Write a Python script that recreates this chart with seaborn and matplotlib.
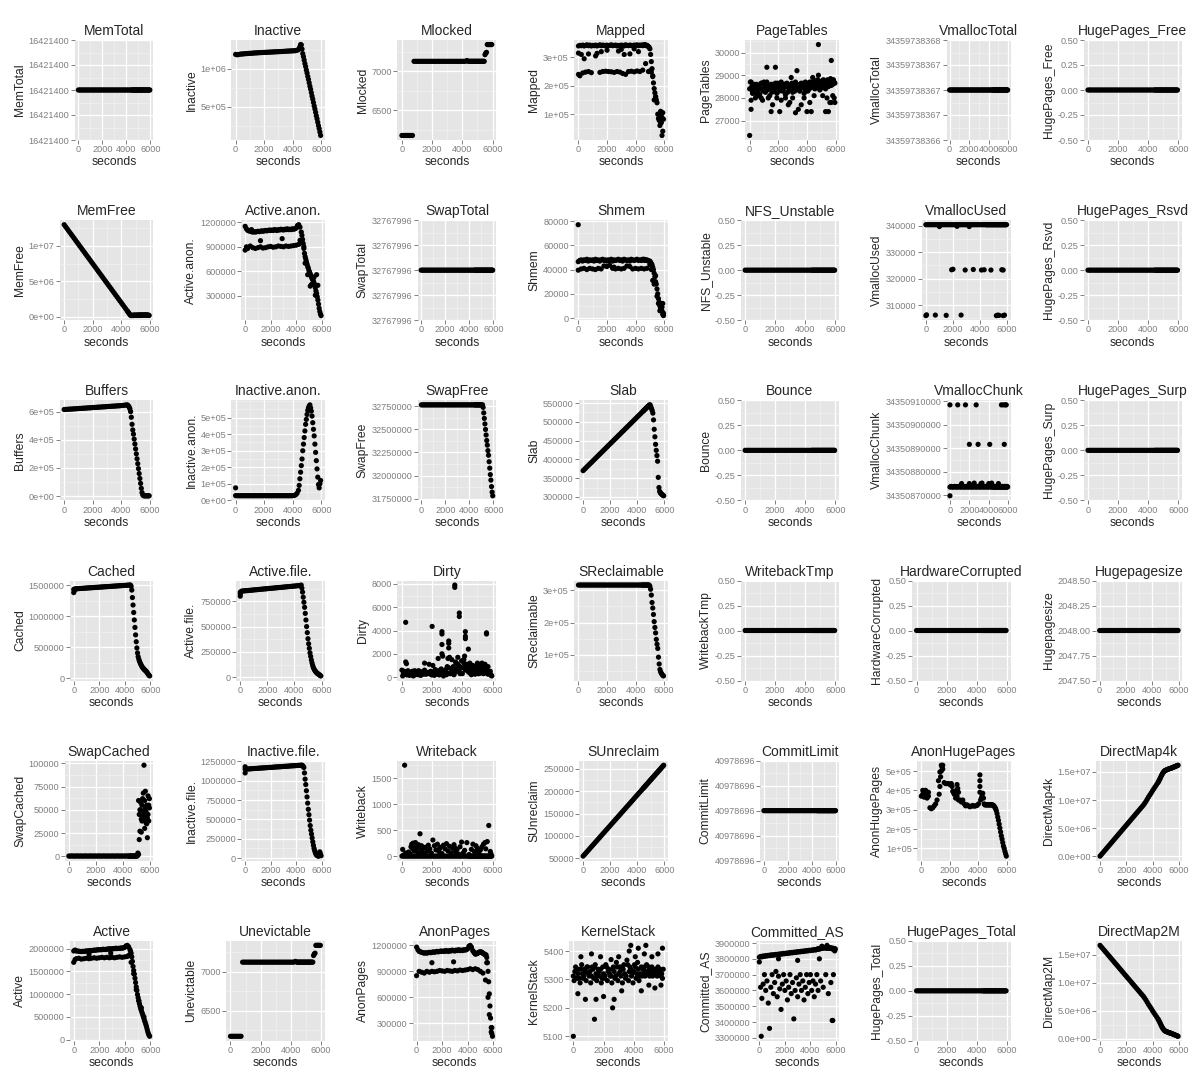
import numpy as np
import pandas as pd
import matplotlib
matplotlib.use("Agg")
import matplotlib.pyplot as plt
import seaborn as sns
from matplotlib.ticker import AutoMinorLocator

# sample times (s): every 100 s, then every 50 s once memory starts moving
seconds = [
    0, 100, 200, 300, 400, 500, 600, 700, 800, 900,
    1000, 1100, 1200, 1300, 1400, 1500, 1600, 1700, 1800, 1900,
    2000, 2100, 2200, 2300, 2400, 2500, 2600, 2700, 2800, 2900,
    3000, 3100, 3200, 3300, 3400, 3500, 3600, 3700, 3800, 3900,
    4000, 4100, 4200, 4300, 4400,
    4450, 4500, 4550, 4600, 4650, 4700, 4750, 4800, 4850, 4900,
    4950, 5000, 5050, 5100, 5150, 5200, 5250, 5300, 5350, 5400,
    5450, 5500, 5550, 5600, 5650, 5700, 5750, 5800, 5850, 5900,
    5950,
]

# constant counters
mem_total = 16421400
swap_total = 32767996
commit_limit = 40978696
vmalloc_total = 34359738367
hugepagesize = 2048
nfs_unstable = 0
bounce = 0
writeback_tmp = 0
hardware_corrupted = 0
hugepages_total = 0
hugepages_free = 0
hugepages_rsvd = 0
hugepages_surp = 0

mem_free = [
    13000e3, 12724e3, 12447e3, 12171e3, 11895e3, 11618e3, 11342e3, 11066e3, 10789e3, 10513e3,
    10237e3, 9960e3, 9684e3, 9408e3, 9131e3, 8855e3, 8579e3, 8302e3, 8026e3, 7750e3,
    7473e3, 7197e3, 6921e3, 6644e3, 6368e3, 6092e3, 5815e3, 5539e3, 5263e3, 4986e3,
    4710e3, 4434e3, 4157e3, 3881e3, 3605e3, 3328e3, 3052e3, 2776e3, 2499e3, 2223e3,
    1947e3, 1670e3, 1394e3, 1118e3, 841e3,
    703e3, 565e3, 427e3, 289e3, 160e3, 130e3, 150e3, 210e3, 140e3, 180e3,
    230e3, 160e3, 200e3, 140e3, 250e3, 180e3, 220e3, 150e3, 260e3, 190e3,
    230e3, 170e3, 240e3, 200e3, 260e3, 180e3, 220e3, 250e3, 170e3, 210e3,
    150e3,
]

buffers = [
    615e3, 616e3, 616e3, 617e3, 618e3, 618e3, 619e3, 620e3, 620e3, 621e3,
    622e3, 623e3, 623e3, 624e3, 625e3, 625e3, 626e3, 627e3, 627e3, 628e3,
    629e3, 630e3, 630e3, 631e3, 632e3, 632e3, 633e3, 634e3, 634e3, 635e3,
    636e3, 637e3, 637e3, 638e3, 639e3, 639e3, 640e3, 641e3, 641e3, 642e3,
    643e3, 644e3, 645e3, 647e3, 648e3,
    645e3, 640e3, 632e3, 620e3, 600e3, 560e3, 510e3, 470e3, 440e3, 405e3,
    370e3, 335e3, 300e3, 265e3, 230e3, 195e3, 160e3, 125e3, 90e3, 55e3,
    25e3, 8e3, 3e3, 2e3, 2e3, 2e3, 2e3, 2e3, 2e3, 2e3,
    2e3,
]

cached = [
    1380e3, 1440e3, 1441e3, 1443e3, 1444e3, 1446e3, 1447e3, 1448e3, 1450e3, 1451e3,
    1453e3, 1454e3, 1456e3, 1457e3, 1458e3, 1460e3, 1461e3, 1463e3, 1464e3, 1465e3,
    1467e3, 1468e3, 1470e3, 1471e3, 1473e3, 1474e3, 1475e3, 1477e3, 1478e3, 1480e3,
    1481e3, 1483e3, 1484e3, 1485e3, 1487e3, 1488e3, 1490e3, 1491e3, 1493e3, 1494e3,
    1495e3, 1497e3, 1498e3, 1500e3, 1501e3,
    1500e3, 1480e3, 1420e3, 1300e3, 1180e3, 1060e3, 940e3, 820e3, 700e3, 590e3,
    490e3, 410e3, 350e3, 310e3, 280e3, 255e3, 230e3, 210e3, 190e3, 175e3,
    162e3, 150e3, 140e3, 130e3, 120e3, 110e3, 95e3, 80e3, 65e3, 50e3,
    40e3,
]
cached_extra = [(0, 1430e3), (100, 1420e3)]

swap_cached = [
    300, 200, 400, 300, 200, 300, 400, 200, 300, 300,
    300, 200, 400, 300, 200, 300, 400, 200, 300, 300,
    300, 200, 400, 300, 200, 300, 400, 200, 300, 300,
    300, 200, 400, 300, 200, 300, 400, 200, 300, 300,
    300, 200, 400, 300, 200,
    300, 300, 300, 300, 300, 300, 300, 300, 300, 300,
    300, 300, 300, 3500, 60e3, 45e3, 27e3, 50e3, 40e3, 38e3,
    62e3, 68e3, 45e3, 42e3, 70e3, 48e3, 35e3, 41e3, 65e3, 55e3,
    52e3,
]
swap_cached_extra = [
    (5150, 2000), (5200, 18e3), (5250, 50e3), (5300, 58e3), (5350, 26e3), (5400, 55e3),
    (5450, 43e3), (5500, 39e3), (5500, 48e3), (5550, 98e3), (5600, 30e3), (5600, 60e3),
    (5650, 52e3), (5700, 36e3), (5750, 55e3), (5800, 20e3), (5850, 45e3), (5900, 38e3),
    (5950, 62e3),
]

active = [
    1950e3, 1970e3, 1951e3, 1948e3, 1944e3, 1940e3, 1936e3, 1943e3, 1939e3, 1945e3,
    1952e3, 1948e3, 1954e3, 1960e3, 1957e3, 1963e3, 1969e3, 1966e3, 1972e3, 1978e3,
    1974e3, 1981e3, 1977e3, 1988e3, 1984e3, 1981e3, 1992e3, 1988e3, 2000e3, 1996e3,
    1992e3, 2003e3, 2000e3, 2011e3, 2002e3, 2009e3, 2005e3, 2016e3, 2012e3, 2019e3,
    2030e3, 2061e3, 2073e3, 2044e3, 1985e3,
    1945e3, 1900e3, 1820e3, 1720e3, 1610e3, 1520e3, 1440e3, 1350e3, 1255e3, 1160e3,
    1080e3, 990e3, 920e3, 855e3, 790e3, 735e3, 680e3, 640e3, 595e3, 555e3,
    510e3, 468e3, 418e3, 380e3, 333e3, 287e3, 232e3, 177e3, 132e3, 97e3,
    72e3,
]
active_extra = [
    (0, 1700e3), (100, 1760e3), (200, 1780e3), (400, 1790e3), (600, 1770e3), (800, 1780e3),
    (1000, 1790e3), (1200, 1780e3), (1400, 1790e3), (1600, 1800e3), (1800, 1790e3),
    (2000, 1800e3), (2200, 1810e3), (2400, 1800e3), (2600, 1810e3), (2800, 1800e3),
    (3000, 1810e3), (3200, 1800e3), (3400, 1810e3), (3600, 1820e3), (3800, 1810e3),
    (4000, 1820e3), (4200, 1830e3), (1200, 1880e3), (2900, 1900e3), (4300, 1850e3),
    (4500, 1700e3), (4700, 1450e3), (4900, 1100e3), (5100, 850e3), (5300, 700e3),
    (5500, 500e3),
]

inactive = [
    1190e3, 1185e3, 1188e3, 1192e3, 1195e3, 1196e3, 1198e3, 1200e3, 1201e3, 1203e3,
    1204e3, 1205e3, 1207e3, 1208e3, 1210e3, 1210e3, 1212e3, 1213e3, 1214e3, 1215e3,
    1216e3, 1217e3, 1218e3, 1219e3, 1220e3, 1221e3, 1222e3, 1223e3, 1224e3, 1225e3,
    1226e3, 1227e3, 1228e3, 1229e3, 1230e3, 1232e3, 1233e3, 1234e3, 1235e3, 1236e3,
    1237e3, 1238e3, 1240e3, 1245e3, 1252e3,
    1265e3, 1290e3, 1320e3, 1315e3, 1260e3, 1200e3, 1160e3, 1115e3, 1070e3, 1030e3,
    985e3, 945e3, 900e3, 860e3, 815e3, 770e3, 730e3, 685e3, 640e3, 600e3,
    555e3, 510e3, 470e3, 425e3, 380e3, 340e3, 295e3, 250e3, 210e3, 165e3,
    120e3,
]

active_anon = [
    1150e3, 1120e3, 1100e3, 1095e3, 1090e3, 1085e3, 1080e3, 1085e3, 1080e3, 1085e3,
    1090e3, 1085e3, 1090e3, 1095e3, 1090e3, 1095e3, 1100e3, 1095e3, 1100e3, 1105e3,
    1100e3, 1105e3, 1100e3, 1110e3, 1105e3, 1100e3, 1110e3, 1105e3, 1115e3, 1110e3,
    1105e3, 1115e3, 1110e3, 1120e3, 1110e3, 1115e3, 1110e3, 1120e3, 1115e3, 1120e3,
    1130e3, 1160e3, 1170e3, 1140e3, 1080e3,
    1040e3, 990e3, 940e3, 880e3, 820e3, 780e3, 750e3, 720e3, 690e3, 660e3,
    640e3, 610e3, 590e3, 570e3, 550e3, 530e3, 510e3, 500e3, 480e3, 460e3,
    430e3, 400e3, 360e3, 330e3, 290e3, 250e3, 200e3, 150e3, 110e3, 80e3,
    60e3,
]
active_anon_extra = [
    (0, 860e3), (100, 900e3), (200, 880e3), (400, 910e3), (600, 890e3), (800, 880e3),
    (1000, 890e3), (1200, 900e3), (1400, 885e3), (1600, 890e3), (1800, 900e3),
    (2000, 905e3), (2200, 895e3), (2400, 900e3), (2600, 910e3), (2800, 905e3),
    (3000, 900e3), (3200, 910e3), (3400, 905e3), (3600, 910e3), (3800, 915e3),
    (4000, 920e3), (4200, 930e3), (1200, 975e3), (2900, 1000e3), (4300, 980e3),
    (4450, 960e3), (4600, 900e3), (4700, 700e3), (4900, 560e3), (5100, 420e3),
    (5200, 440e3), (5300, 450e3), (5400, 530e3), (5500, 310e3), (5600, 560e3),
    (5700, 430e3), (300, 1100e3), (500, 1110e3),
]

inactive_anon = [
    75e3, 27e3, 28e3, 27e3, 28e3, 27e3, 28e3, 27e3, 28e3, 27e3,
    28e3, 27e3, 28e3, 27e3, 28e3, 27e3, 28e3, 27e3, 28e3, 27e3,
    28e3, 27e3, 28e3, 27e3, 28e3, 27e3, 28e3, 27e3, 28e3, 27e3,
    28e3, 27e3, 28e3, 27e3, 28e3, 27e3, 28e3, 27e3, 28e3, 27e3,
    28e3, 29e3, 33e3, 42e3, 60e3,
    90e3, 130e3, 170e3, 210e3, 250e3, 300e3, 340e3, 380e3, 420e3, 460e3,
    490e3, 520e3, 545e3, 560e3, 570e3, 578e3, 560e3, 540e3, 510e3, 470e3,
    430e3, 390e3, 340e3, 290e3, 240e3, 190e3, 140e3, 95e3, 75e3, 100e3,
    120e3,
]
inactive_anon_extra = [(0, 28e3)]

active_file = [
    800e3, 850e3, 851e3, 853e3, 854e3, 855e3, 856e3, 858e3, 859e3, 860e3,
    862e3, 863e3, 864e3, 865e3, 867e3, 868e3, 869e3, 871e3, 872e3, 873e3,
    874e3, 876e3, 877e3, 878e3, 879e3, 881e3, 882e3, 883e3, 885e3, 886e3,
    887e3, 888e3, 890e3, 891e3, 892e3, 894e3, 895e3, 896e3, 897e3, 899e3,
    900e3, 901e3, 903e3, 904e3, 905e3,
    905e3, 910e3, 880e3, 840e3, 790e3, 740e3, 690e3, 630e3, 565e3, 500e3,
    440e3, 380e3, 330e3, 285e3, 240e3, 205e3, 170e3, 140e3, 115e3, 95e3,
    80e3, 68e3, 58e3, 50e3, 43e3, 37e3, 32e3, 27e3, 22e3, 17e3,
    12e3,
]
active_file_extra = [(0, 840e3), (0, 820e3)]

inactive_file = [
    1100e3, 1150e3, 1151e3, 1152e3, 1153e3, 1155e3, 1156e3, 1157e3, 1158e3, 1159e3,
    1160e3, 1162e3, 1163e3, 1164e3, 1165e3, 1166e3, 1167e3, 1169e3, 1170e3, 1171e3,
    1172e3, 1173e3, 1174e3, 1176e3, 1177e3, 1178e3, 1179e3, 1180e3, 1181e3, 1183e3,
    1184e3, 1185e3, 1186e3, 1187e3, 1188e3, 1190e3, 1191e3, 1192e3, 1193e3, 1194e3,
    1195e3, 1197e3, 1198e3, 1199e3, 1200e3,
    1200e3, 1195e3, 1185e3, 1170e3, 1100e3, 1020e3, 950e3, 870e3, 790e3, 710e3,
    630e3, 560e3, 490e3, 420e3, 360e3, 310e3, 260e3, 210e3, 165e3, 125e3,
    95e3, 70e3, 50e3, 40e3, 32e3, 28e3, 25e3, 30e3, 70e3, 50e3,
    30e3,
]
inactive_file_extra = [(0, 1180e3), (0, 1150e3), (5850, 80e3)]

mlocked = [
    6175, 6175, 6175, 6175, 6175, 6175, 6175, 6175, 7125, 7125,
    7125, 7125, 7125, 7125, 7125, 7125, 7125, 7125, 7125, 7125,
    7125, 7125, 7125, 7125, 7125, 7125, 7125, 7125, 7125, 7125,
    7125, 7125, 7125, 7125, 7125, 7125, 7125, 7125, 7125, 7125,
    7125, 7125, 7125, 7135, 7125,
    7125, 7125, 7125, 7125, 7125, 7125, 7125, 7125, 7125, 7125,
    7125, 7125, 7125, 7125, 7125, 7125, 7125, 7125, 7125, 7125,
    7125, 7210, 7230, 7240, 7340, 7340, 7340, 7340, 7340, 7340,
    7340,
]
unevictable = list(mlocked)

swap_free = [
    32767e3, 32767e3, 32767e3, 32767e3, 32767e3, 32767e3, 32767e3, 32767e3, 32767e3, 32767e3,
    32767e3, 32767e3, 32767e3, 32767e3, 32767e3, 32767e3, 32767e3, 32767e3, 32767e3, 32767e3,
    32767e3, 32767e3, 32767e3, 32767e3, 32767e3, 32767e3, 32767e3, 32767e3, 32767e3, 32767e3,
    32767e3, 32767e3, 32767e3, 32767e3, 32767e3, 32767e3, 32767e3, 32767e3, 32767e3, 32767e3,
    32767e3, 32767e3, 32767e3, 32767e3, 32767e3,
    32767e3, 32767e3, 32767e3, 32767e3, 32767e3, 32767e3, 32767e3, 32767e3, 32767e3, 32767e3,
    32767e3, 32767e3, 32767e3, 32767e3, 32740e3, 32680e3, 32620e3, 32560e3, 32500e3, 32440e3,
    32380e3, 32330e3, 32270e3, 32220e3, 32150e3, 32080e3, 32010e3, 31950e3, 31880e3, 31820e3,
    31780e3,
]

dirty = [
    600, 300, 450, 200, 550, 350, 250, 500, 150, 400,
    300, 550, 200, 450, 350, 600, 250, 400, 300, 500,
    200, 450, 650, 300, 550, 200, 700, 400, 250, 650,
    350, 800, 300, 600, 900, 400, 700, 1100, 500, 850,
    300, 1200, 600, 900, 450,
    700, 350, 950, 500, 300, 800, 450, 600, 250, 900,
    400, 650, 300, 1100, 500, 350, 750, 450, 600, 300,
    1000, 500, 700, 350, 550, 250, 450, 300, 500, 200,
    100,
]
dirty_extra = [
    (50, 100), (150, 500), (250, 4700), (250, 1300), (300, 1150), (350, 200), (500, 150),
    (650, 450), (750, 100), (850, 550), (950, 300), (1050, 200), (1150, 500), (1250, 150),
    (1350, 400), (1450, 250), (1500, 1200), (1650, 300), (1800, 1100), (1850, 400),
    (1950, 200), (2000, 4350), (2050, 1000), (2150, 150), (2250, 500), (2350, 250),
    (2400, 1600), (2450, 200), (2550, 350), (2650, 3900), (2650, 3700), (2650, 2800),
    (2650, 2000), (2700, 1800), (2750, 100), (2850, 550), (2950, 200), (3050, 1600),
    (3100, 3100), (3100, 2900), (3100, 2500), (3150, 1700), (3250, 300), (3300, 1500),
    (3350, 700), (3450, 200), (3500, 7900), (3500, 7700), (3550, 1300), (3650, 500),
    (3700, 1700), (3750, 1000), (3800, 5500), (3800, 5200), (3850, 300), (3950, 1400),
    (4050, 800), (4150, 1800), (4200, 3900), (4200, 3500), (4200, 3300), (4250, 1000),
    (4350, 600), (4400, 2400), (4500, 1200), (4600, 200), (4700, 1000), (4800, 300),
    (4900, 700), (5000, 1200), (5100, 300), (5200, 900), (5300, 1200), (5400, 500),
    (5500, 1100), (5600, 3800), (5600, 3700), (5700, 900), (5800, 400), (5900, 150),
    (3000, 900), (3600, 1200), (4100, 1500), (4300, 1100),
]

writeback = [
    0, 0, 0, 0, 0, 0, 0, 0, 0, 0,
    0, 0, 0, 0, 0, 0, 0, 0, 0, 0,
    0, 0, 0, 0, 0, 0, 0, 0, 0, 0,
    0, 0, 0, 0, 0, 0, 0, 0, 0, 0,
    0, 0, 0, 0, 0,
    0, 0, 0, 0, 0, 0, 0, 0, 0, 0,
    0, 0, 0, 0, 0, 0, 0, 0, 0, 0,
    0, 0, 0, 0, 0, 0, 0, 0, 0, 0,
    0,
]
writeback_extra = [
    (50, 130), (100, 20), (180, 1750), (250, 60), (350, 30), (450, 80), (550, 40),
    (600, 180), (650, 230), (700, 150), (750, 250), (800, 100), (850, 200), (900, 260),
    (950, 120), (1000, 180), (1050, 60), (1100, 220), (1150, 170), (1200, 430),
    (1250, 80), (1300, 200), (1350, 130), (1450, 50), (1550, 170), (1650, 90),
    (1750, 210), (1850, 140), (1950, 60), (2050, 310), (2150, 200), (2250, 120),
    (2350, 230), (2450, 90), (2500, 150), (2550, 170), (2650, 50), (2750, 210),
    (2850, 140), (2950, 240), (3050, 100), (3150, 190), (3250, 60), (3350, 150),
    (3450, 220), (3500, 160), (3550, 80), (3650, 130), (3750, 40), (3850, 180),
    (3950, 270), (4050, 60), (4150, 110), (4300, 260), (4450, 30), (4600, 130),
    (4700, 230), (4800, 90), (4900, 200), (5000, 150), (5050, 80), (5100, 60),
    (5200, 120), (5300, 180), (5400, 230), (5500, 260), (5550, 140), (5650, 280),
    (5750, 590), (5850, 90), (5900, 40),
]

anon_pages = [
    1180e3, 1150e3, 1130e3, 1125e3, 1120e3, 1115e3, 1110e3, 1115e3, 1110e3, 1115e3,
    1120e3, 1115e3, 1120e3, 1125e3, 1120e3, 1125e3, 1130e3, 1125e3, 1130e3, 1135e3,
    1130e3, 1135e3, 1130e3, 1140e3, 1135e3, 1130e3, 1140e3, 1135e3, 1145e3, 1140e3,
    1135e3, 1145e3, 1140e3, 1150e3, 1140e3, 1145e3, 1140e3, 1150e3, 1145e3, 1150e3,
    1160e3, 1190e3, 1200e3, 1180e3, 1140e3,
    1130e3, 1120e3, 1110e3, 1100e3, 1100e3, 1105e3, 1110e3, 1110e3, 1115e3, 1120e3,
    1125e3, 1120e3, 1125e3, 1120e3, 1115e3, 1110e3, 1105e3, 1100e3, 1095e3, 1090e3,
    1090e3, 1060e3, 1000e3, 900e3, 780e3, 640e3, 500e3, 360e3, 250e3, 180e3,
    150e3,
]
anon_pages_extra = [
    (0, 850e3), (200, 900e3), (400, 890e3), (600, 880e3), (800, 900e3), (1000, 890e3),
    (1200, 900e3), (1400, 895e3), (1600, 900e3), (1800, 910e3), (2000, 905e3),
    (2200, 900e3), (2400, 910e3), (2600, 905e3), (2800, 900e3), (3000, 910e3),
    (3200, 905e3), (3400, 915e3), (3600, 910e3), (3800, 915e3), (4000, 920e3),
    (4200, 930e3), (4400, 920e3), (4600, 930e3), (4800, 920e3), (5000, 900e3),
    (5200, 880e3), (5400, 800e3), (5500, 1000e3), (5600, 600e3), (5700, 400e3),
    (1200, 1000e3), (2900, 1010e3), (5850, 200e3), (5900, 250e3),
]

mapped = [
    340e3, 342e3, 341e3, 343e3, 340e3, 342e3, 344e3, 341e3, 343e3, 340e3,
    342e3, 341e3, 343e3, 340e3, 342e3, 344e3, 341e3, 343e3, 342e3, 340e3,
    343e3, 341e3, 342e3, 344e3, 341e3, 342e3, 343e3, 340e3, 342e3, 341e3,
    343e3, 342e3, 340e3, 344e3, 342e3, 341e3, 343e3, 342e3, 340e3, 343e3,
    342e3, 344e3, 341e3, 343e3, 342e3,
    343e3, 341e3, 344e3, 342e3, 345e3, 343e3, 341e3, 342e3, 340e3, 338e3,
    335e3, 330e3, 310e3, 285e3, 260e3, 232e3, 210e3, 190e3, 175e3, 162e3,
    150e3, 140e3, 100e3, 85e3, 78e3, 95e3, 70e3, 100e3, 88e3, 40e3,
    82e3,
]
mapped_extra = [
    (0, 240e3), (100, 235e3), (300, 245e3), (500, 248e3), (700, 250e3), (900, 246e3),
    (1500, 247e3), (1700, 250e3), (1900, 251e3), (2100, 250e3), (2300, 249e3),
    (2500, 247e3), (2700, 250e3), (2900, 248e3), (3100, 243e3), (3300, 240e3),
    (3500, 250e3), (3700, 251e3), (3900, 249e3), (4100, 252e3), (4300, 250e3),
    (4500, 255e3), (4700, 278e3), (4900, 250e3), (5000, 252e3), (5100, 248e3),
    (0, 315e3), (200, 310e3), (400, 295e3), (700, 312e3), (1200, 305e3), (1300, 314e3),
    (1600, 320e3), (2000, 325e3), (2800, 322e3), (3000, 328e3), (3200, 310e3),
    (3600, 312e3), (3900, 330e3), (4200, 320e3), (5200, 235e3), (5300, 150e3),
    (5400, 160e3), (5700, 60e3), (5750, 110e3), (5800, 70e3), (5850, 25e3), (5900, 105e3),
]

shmem = [
    46500, 47500, 48000, 47000, 48000, 47500, 48500, 47000, 48000, 47500,
    48000, 47000, 48500, 47500, 48000, 47000, 48000, 48500, 47500, 48000,
    47000, 48000, 47500, 48500, 47000, 48000, 47500, 48000, 48500, 47500,
    48000, 47000, 48500, 48000, 47500, 48000, 47000, 48500, 48000, 47500,
    48000, 48500, 47500, 48000, 47500,
    48000, 48500, 48000, 48500, 47500, 48000, 47500, 48000, 47500, 47000,
    47000, 47000, 46000, 45000, 44000, 42000, 40000, 37000, 34000, 30000,
    28000, 24000, 20000, 16000, 13000, 10000, 8000, 12000, 6000, 3000,
    2000,
]
shmem_extra = [
    (0, 77000), (0, 39500), (200, 40500), (400, 41000), (600, 40000), (800, 41000),
    (1000, 40500), (1200, 40000), (1400, 41000), (1600, 40500), (1800, 43000),
    (2000, 42500), (2200, 43500), (2400, 41000), (2500, 42000), (2600, 40500),
    (2800, 41000), (3000, 40500), (3200, 41000), (3400, 43000), (3600, 42500),
    (3800, 40500), (4000, 41000), (4200, 40500), (4400, 41000), (4600, 40500),
    (4800, 41000), (5000, 44000), (5100, 40000), (5200, 31000), (5300, 28000),
    (5400, 35000), (5500, 18000), (5600, 12000), (5700, 6000), (5850, 9000),
    (5900, 12000), (5950, 4000),
]

slab = [
    370.0e3, 373.6e3, 377.1e3, 380.7e3, 384.3e3, 387.9e3, 391.4e3, 395.0e3, 398.6e3, 402.1e3,
    405.7e3, 409.3e3, 412.9e3, 416.4e3, 420.0e3, 423.6e3, 427.1e3, 430.7e3, 434.3e3, 437.9e3,
    441.4e3, 445.0e3, 448.6e3, 452.1e3, 455.7e3, 459.3e3, 462.9e3, 466.4e3, 470.0e3, 473.6e3,
    477.1e3, 480.7e3, 484.3e3, 487.9e3, 491.4e3, 495.0e3, 498.6e3, 502.1e3, 505.7e3, 509.3e3,
    512.9e3, 516.4e3, 520.0e3, 523.6e3, 527.1e3,
    528.9e3, 530.7e3, 532.5e3, 534.3e3, 536.1e3, 537.9e3, 539.6e3, 541.4e3, 543.2e3, 545.0e3,
    545.0e3, 540.0e3, 535.0e3, 530.0e3, 523.0e3, 505.0e3, 480.0e3, 460.0e3, 440.0e3, 424.0e3,
    410.0e3, 395.0e3, 352.0e3, 325.0e3, 315.0e3, 311.0e3, 309.0e3, 307.0e3, 306.0e3, 304.0e3,
    303.0e3,
]

sreclaimable = [
    316e3, 316e3, 316e3, 316e3, 316e3, 316e3, 316e3, 316e3, 316e3, 316e3,
    316e3, 316e3, 316e3, 316e3, 316e3, 316e3, 316e3, 316e3, 316e3, 316e3,
    316e3, 316e3, 316e3, 316e3, 316e3, 316e3, 316e3, 316e3, 316e3, 316e3,
    316e3, 316e3, 316e3, 316e3, 316e3, 316e3, 316e3, 316e3, 316e3, 316e3,
    316e3, 316e3, 316e3, 316e3, 316e3,
    316e3, 316e3, 316e3, 316e3, 316e3, 316e3, 316e3, 316e3, 316e3, 316e3,
    316e3, 312e3, 303e3, 285e3, 262e3, 245e3, 225e3, 203e3, 185e3, 168e3,
    148e3, 133e3, 120e3, 93e3, 72e3, 55e3, 48e3, 43e3, 40e3, 37e3,
    35e3,
]

sunreclaim = [
    55.0e3, 58.4e3, 61.8e3, 65.2e3, 68.6e3, 72.1e3, 75.5e3, 78.9e3, 82.3e3, 85.7e3,
    89.1e3, 92.5e3, 95.9e3, 99.4e3, 102.8e3, 106.2e3, 109.6e3, 113.0e3, 116.4e3, 119.8e3,
    123.2e3, 126.7e3, 130.1e3, 133.5e3, 136.9e3, 140.3e3, 143.7e3, 147.1e3, 150.5e3, 154.0e3,
    157.4e3, 160.8e3, 164.2e3, 167.6e3, 171.0e3, 174.4e3, 177.8e3, 181.2e3, 184.7e3, 188.1e3,
    191.5e3, 194.9e3, 198.3e3, 201.7e3, 205.1e3,
    206.8e3, 208.5e3, 210.2e3, 211.9e3, 213.6e3, 215.3e3, 217.0e3, 218.7e3, 220.4e3, 222.1e3,
    223.9e3, 225.6e3, 227.3e3, 229.0e3, 230.7e3, 232.4e3, 234.1e3, 235.8e3, 237.5e3, 239.2e3,
    240.9e3, 242.6e3, 244.3e3, 246.0e3, 247.7e3, 249.4e3, 251.2e3, 252.9e3, 254.6e3, 256.3e3,
    258.0e3,
]

kernel_stack = [
    5312, 5328, 5336, 5320, 5304, 5336, 5320, 5312, 5328, 5344,
    5320, 5328, 5312, 5336, 5344, 5320, 5312, 5328, 5336, 5304,
    5320, 5312, 5344, 5328, 5320, 5312, 5336, 5328, 5312, 5344,
    5320, 5328, 5344, 5336, 5320, 5312, 5352, 5328, 5336, 5320,
    5328, 5344, 5320, 5336, 5312,
    5320, 5344, 5312, 5336, 5320, 5344, 5312, 5328, 5352, 5320,
    5328, 5344, 5312, 5336, 5320, 5344, 5312, 5328, 5336, 5320,
    5320, 5336, 5312, 5344, 5320, 5328, 5336, 5312, 5320, 5304,
    5336,
]
kernel_stack_extra = [
    (0, 5100), (50, 5296), (150, 5344), (250, 5304), (350, 5336), (450, 5288), (550, 5352),
    (650, 5304), (750, 5336), (850, 5296), (950, 5344), (1050, 5312), (1150, 5288),
    (1250, 5344), (1350, 5304), (1450, 5352), (1550, 5296), (1650, 5336), (1750, 5312),
    (1850, 5288), (1950, 5344), (2050, 5304), (2150, 5352), (2250, 5296), (2350, 5336),
    (2450, 5312), (2550, 5288), (2650, 5344), (2750, 5304), (2850, 5360), (2950, 5296),
    (3050, 5344), (3150, 5312), (3250, 5288), (3350, 5352), (3450, 5304), (3550, 5368),
    (3650, 5296), (3750, 5344), (3850, 5312), (3950, 5288), (4050, 5352), (4150, 5304),
    (4250, 5360), (4350, 5296), (300, 5250), (500, 5380), (800, 5230), (1200, 5390),
    (1400, 5160), (1500, 5230), (1800, 5380), (2000, 5240), (2500, 5370), (2600, 5200),
    (2700, 5230), (3000, 5380), (3200, 5260), (3700, 5400), (3800, 5420), (4100, 5380),
    (4300, 5410), (4500, 5260), (4700, 5390), (4800, 5420), (5000, 5280), (5200, 5380),
    (5400, 5270), (5600, 5390), (5800, 5280), (5900, 5410),
]

page_tables = [
    28400, 28700, 28300, 28550, 28200, 28600, 28450, 28150, 28650, 28350,
    28500, 28250, 28700, 28400, 28100, 28600, 28450, 28300, 28650, 28200,
    28550, 28400, 28700, 28300, 28500, 28150, 28650, 28450, 28350, 28600,
    28250, 28500, 28700, 28400, 28550, 28300, 28650, 28450, 28200, 28600,
    28500, 28350, 28700, 28450, 28600,
    28550, 28700, 28400, 28750, 28600, 28450, 28800, 28500, 28650, 28350,
    28700, 28600, 28750, 28450, 28800, 28550, 28650, 28400, 28750, 28600,
    28800, 28500, 28700, 28650, 28850, 28550, 28750, 28600, 28800, 28700,
    28650,
]
page_tables_extra = [
    (0, 26350), (100, 27500), (100, 27900), (50, 28700), (200, 28200), (400, 28000),
    (600, 28100), (800, 28000), (900, 27900), (1000, 28700), (1200, 29350), (1300, 28000),
    (1500, 27400), (1600, 27700), (1800, 29350), (1900, 28000), (2100, 27400),
    (2200, 27900), (2400, 28600), (2500, 28000), (2700, 27700), (2800, 27800),
    (2900, 28900), (3000, 28000), (3200, 27350), (3300, 29200), (3400, 27500),
    (3500, 28600), (3600, 27700), (3800, 28000), (3900, 28700), (4000, 27400),
    (4200, 27800), (4300, 27400), (4400, 28900), (4500, 28100), (4800, 30350),
    (4800, 29000), (5100, 28100), (5300, 27400), (5400, 28000), (5500, 27400),
    (5600, 27800), (5700, 29650), (5700, 27800), (5800, 28100), (5900, 28000),
    (5950, 27800), (150, 28500), (250, 28350), (350, 28600), (450, 28450), (550, 28250),
    (650, 28550), (750, 28400), (850, 28650), (950, 28300), (1050, 28500), (1150, 28600),
    (1250, 28350), (1350, 28550), (1450, 28450), (1550, 28250), (1650, 28600),
    (1750, 28400), (1850, 28500), (1950, 28650), (2050, 28300), (2150, 28550),
    (2250, 28450), (2350, 28350), (2450, 28600), (2550, 28500), (2650, 28250),
    (2750, 28550), (2850, 28400), (2950, 28650), (3050, 28450), (3150, 28300),
    (3250, 28600), (3350, 28500), (3450, 28350), (3550, 28550), (3650, 28450),
    (3750, 28650), (3850, 28400), (3950, 28550), (4050, 28300), (4150, 28600),
    (4250, 28500), (4350, 28700),
]

committed_as = [
    3810e3, 3815e3, 3812e3, 3818e3, 3815e3, 3820e3, 3818e3, 3822e3, 3820e3, 3825e3,
    3822e3, 3826e3, 3824e3, 3828e3, 3826e3, 3830e3, 3828e3, 3832e3, 3830e3, 3834e3,
    3832e3, 3836e3, 3834e3, 3838e3, 3836e3, 3840e3, 3838e3, 3842e3, 3840e3, 3844e3,
    3842e3, 3846e3, 3844e3, 3848e3, 3846e3, 3850e3, 3848e3, 3852e3, 3850e3, 3854e3,
    3852e3, 3856e3, 3854e3, 3858e3, 3856e3,
    3858e3, 3860e3, 3862e3, 3860e3, 3864e3, 3862e3, 3866e3, 3864e3, 3868e3, 3866e3,
    3870e3, 3868e3, 3872e3, 3870e3, 3868e3, 3872e3, 3870e3, 3866e3, 3870e3, 3868e3,
    3872e3, 3866e3, 3870e3, 3868e3, 3864e3, 3868e3, 3862e3, 3866e3, 3860e3, 3864e3,
    3862e3,
]
committed_as_extra = [
    (0, 3780e3), (100, 3620e3), (150, 3310e3), (200, 3550e3), (300, 3640e3), (400, 3700e3),
    (500, 3600e3), (600, 3660e3), (700, 3520e3), (800, 3360e3), (900, 3620e3),
    (1000, 3700e3), (1100, 3580e3), (1200, 3650e3), (1300, 3720e3), (1400, 3560e3),
    (1500, 3690e3), (1500, 3800e3), (1600, 3610e3), (1700, 3480e3), (1800, 3640e3),
    (1900, 3700e3), (2000, 3600e3), (2100, 3660e3), (2200, 3540e3), (2300, 3620e3),
    (2400, 3700e3), (2500, 3580e3), (2600, 3650e3), (2700, 3420e3), (2800, 3600e3),
    (2900, 3680e3), (3000, 3560e3), (3000, 3790e3), (3100, 3640e3), (3200, 3700e3),
    (3300, 3600e3), (3400, 3660e3), (3500, 3540e3), (3600, 3620e3), (3700, 3700e3),
    (3800, 3580e3), (3900, 3650e3), (4000, 3700e3), (4100, 3600e3), (4200, 3660e3),
    (4300, 3560e3), (4400, 3640e3), (4500, 3700e3), (4600, 3600e3), (4700, 3800e3),
    (4800, 3660e3), (4900, 3880e3), (5000, 3620e3), (5200, 3700e3), (5300, 3885e3),
    (5400, 3580e3), (5600, 3650e3), (5700, 3410e3), (5750, 3410e3), (5800, 3700e3),
    (5900, 3850e3),
]

vmalloc_used = [
    340.3e3, 340.3e3, 340.3e3, 340.3e3, 340.3e3, 340.3e3, 340.3e3, 340.3e3, 340.3e3, 340.3e3,
    340.3e3, 340.3e3, 340.3e3, 340.3e3, 340.3e3, 340.3e3, 340.3e3, 340.3e3, 340.3e3, 340.3e3,
    340.3e3, 340.3e3, 340.3e3, 340.3e3, 340.3e3, 340.3e3, 340.3e3, 340.3e3, 340.3e3, 340.3e3,
    340.3e3, 340.3e3, 340.3e3, 340.3e3, 340.3e3, 340.3e3, 340.3e3, 340.3e3, 340.3e3, 340.3e3,
    340.3e3, 340.3e3, 340.3e3, 340.3e3, 340.3e3,
    340.3e3, 340.3e3, 340.3e3, 340.3e3, 340.3e3, 340.3e3, 340.3e3, 340.3e3, 340.3e3, 340.3e3,
    340.3e3, 340.3e3, 340.3e3, 340.3e3, 340.3e3, 340.3e3, 340.3e3, 340.3e3, 340.3e3, 340.3e3,
    340.3e3, 340.3e3, 340.3e3, 340.3e3, 340.3e3, 340.3e3, 340.3e3, 340.3e3, 340.3e3, 340.3e3,
    340.3e3,
]
vmalloc_used_extra = [
    (1900, 323.3e3), (2000, 323.5e3), (2900, 323.2e3), (3500, 323.4e3), (4100, 323.2e3),
    (4300, 323.3e3), (4800, 323.2e3), (5600, 323.3e3), (5700, 323.2e3), (0, 306.0e3),
    (50, 306.3e3), (700, 306.2e3), (1500, 306.1e3), (2600, 306.2e3), (5200, 306.0e3),
    (5300, 306.2e3), (5400, 306.1e3), (5700, 306.0e3), (5800, 306.2e3), (1000, 339.6e3),
    (2300, 339.7e3), (3200, 339.6e3),
]

vmalloc_chunk = [
    34350873.5e3, 34350873.8e3, 34350873.5e3, 34350873.6e3, 34350873.5e3, 34350873.8e3, 34350873.5e3, 34350873.6e3, 34350873.5e3, 34350873.8e3,
    34350873.5e3, 34350873.6e3, 34350873.5e3, 34350873.8e3, 34350873.5e3, 34350873.6e3, 34350873.5e3, 34350873.8e3, 34350873.5e3, 34350873.6e3,
    34350873.5e3, 34350873.8e3, 34350873.5e3, 34350873.6e3, 34350873.5e3, 34350873.8e3, 34350873.5e3, 34350873.6e3, 34350873.5e3, 34350873.8e3,
    34350873.5e3, 34350873.6e3, 34350873.5e3, 34350873.8e3, 34350873.5e3, 34350873.6e3, 34350873.5e3, 34350873.8e3, 34350873.5e3, 34350873.6e3,
    34350873.5e3, 34350873.8e3, 34350873.5e3, 34350873.6e3, 34350873.5e3,
    34350873.8e3, 34350873.5e3, 34350873.6e3, 34350873.5e3, 34350873.8e3, 34350873.5e3, 34350873.6e3, 34350873.5e3, 34350873.8e3, 34350873.5e3,
    34350873.6e3, 34350873.5e3, 34350873.8e3, 34350873.5e3, 34350873.6e3, 34350873.5e3, 34350873.8e3, 34350873.5e3, 34350873.6e3, 34350873.5e3,
    34350873.8e3, 34350873.5e3, 34350873.6e3, 34350873.5e3, 34350873.8e3, 34350873.5e3, 34350873.6e3, 34350873.5e3, 34350873.8e3, 34350873.5e3,
    34350873.6e3,
]
vmalloc_chunk_extra = [
    (0, 34350908.5e3), (0, 34350869.8e3), (800, 34350908.5e3), (1600, 34350908.5e3),
    (2700, 34350908.5e3), (5300, 34350908.5e3), (5500, 34350908.5e3), (5700, 34350908.5e3),
    (5800, 34350908.5e3), (2000, 34350891.7e3), (2900, 34350891.7e3), (4100, 34350891.7e3),
    (5600, 34350891.7e3), (1200, 34350875.0e3), (2000, 34350875.0e3), (2500, 34350875.2e3),
    (3200, 34350875.0e3), (3300, 34350875.2e3), (4000, 34350875.0e3), (4300, 34350875.2e3),
    (5000, 34350875.0e3),
]

anon_huge = [
    370e3, 400e3, 365e3, 380e3, 360e3, 370e3, 310e3, 305e3, 310e3, 320e3,
    330e3, 350e3, 450e3, 495e3, 530e3, 510e3, 440e3, 435e3, 435e3, 435e3,
    430e3, 435e3, 395e3, 380e3, 360e3, 430e3, 390e3, 350e3, 340e3, 350e3,
    330e3, 320e3, 325e3, 320e3, 315e3, 318e3, 322e3, 318e3, 320e3, 322e3,
    330e3, 480e3, 360e3, 385e3, 330e3,
    325e3, 325e3, 326e3, 324e3, 325e3, 326e3, 325e3, 324e3, 325e3, 326e3,
    325e3, 324e3, 322e3, 318e3, 312e3, 305e3, 295e3, 280e3, 262e3, 245e3,
    225e3, 205e3, 185e3, 165e3, 148e3, 130e3, 112e3, 100e3, 85e3, 72e3,
    60e3,
]
anon_huge_extra = [
    (100, 380e3), (200, 395e3), (300, 400e3), (400, 375e3), (500, 390e3), (1250, 380e3),
    (1300, 420e3), (1350, 470e3), (1400, 500e3), (1450, 520e3), (1500, 530e3),
    (2150, 420e3), (2250, 390e3), (2450, 400e3), (2500, 370e3), (2550, 410e3),
    (2600, 350e3), (4100, 450e3), (4100, 420e3), (4100, 390e3), (4150, 350e3),
    (4250, 370e3), (4350, 360e3),
]

direct_map_4k = [
    0.0e6, 0.275e6, 0.55e6, 0.825e6, 1.1e6, 1.375e6, 1.65e6, 1.925e6, 2.2e6, 2.475e6,
    2.75e6, 3.025e6, 3.3e6, 3.575e6, 3.85e6, 4.125e6, 4.4e6, 4.675e6, 4.95e6, 5.225e6,
    5.5e6, 5.775e6, 6.05e6, 6.325e6, 6.6e6, 6.875e6, 7.15e6, 7.425e6, 7.7e6, 7.975e6,
    8.25e6, 8.525e6, 8.8e6, 9.07e6, 9.4e6, 9.75e6, 10.15e6, 10.55e6, 10.9e6, 11.25e6,
    11.65e6, 12.0e6, 12.35e6, 12.7e6, 13.05e6,
    13.25e6, 13.45e6, 13.7e6, 13.95e6, 14.2e6, 14.45e6, 14.65e6, 14.85e6, 15.0e6, 15.15e6,
    15.25e6, 15.3e6, 15.35e6, 15.4e6, 15.45e6, 15.5e6, 15.55e6, 15.6e6, 15.62e6, 15.65e6,
    15.7e6, 15.75e6, 15.8e6, 15.85e6, 15.9e6, 15.95e6, 16.0e6, 16.05e6, 16.1e6, 16.15e6,
    16.2e6,
]

direct_map_2m = [
    16.65e6, 16.375e6, 16.1e6, 15.825e6, 15.55e6, 15.275e6, 15.0e6, 14.725e6, 14.45e6, 14.175e6,
    13.9e6, 13.625e6, 13.35e6, 13.075e6, 12.8e6, 12.525e6, 12.25e6, 11.975e6, 11.7e6, 11.425e6,
    11.15e6, 10.875e6, 10.6e6, 10.325e6, 10.05e6, 9.775e6, 9.5e6, 9.225e6, 8.95e6, 8.675e6,
    8.4e6, 8.125e6, 7.85e6, 7.58e6, 7.25e6, 6.9e6, 6.5e6, 6.1e6, 5.75e6, 5.4e6,
    5.0e6, 4.65e6, 4.3e6, 3.95e6, 3.6e6,
    3.4e6, 3.2e6, 2.95e6, 2.7e6, 2.45e6, 2.2e6, 2.0e6, 1.8e6, 1.65e6, 1.5e6,
    1.4e6, 1.35e6, 1.3e6, 1.25e6, 1.2e6, 1.15e6, 1.1e6, 1.05e6, 1.03e6, 1.0e6,
    0.95e6, 0.9e6, 0.85e6, 0.8e6, 0.75e6, 0.7e6, 0.65e6, 0.6e6, 0.55e6, 0.5e6,
    0.45e6,
]

# axis ticks / labels
x_ticks = [0, 2000, 4000, 6000]
x_labels = ["0", "2000", "4000", "6000"]
zero_ticks = [-0.5, -0.25, 0, 0.25, 0.5]
zero_labels = ["-0.50", "-0.25", "0.00", "0.25", "0.50"]
mem_total_ticks = [16421399.5, 16421399.75, 16421400, 16421400.25, 16421400.5]
mem_total_labels = ["16421400", "16421400", "16421400", "16421400", "16421400"]
swap_total_ticks = [32767995.5, 32767995.75, 32767996, 32767996.25, 32767996.5]
swap_total_labels = ["32767996", "32767996", "32767996", "32767996", "32767996"]
commit_limit_ticks = [40978695.5, 40978695.75, 40978696, 40978696.25, 40978696.5]
commit_limit_labels = ["40978696", "40978696", "40978696", "40978696", "40978696"]
vmalloc_total_ticks = [34359738366.5, 34359738366.75, 34359738367, 34359738367.25, 34359738367.5]
vmalloc_total_labels = ["34359738366", "34359738367", "34359738367", "34359738367", "34359738368"]
hugepagesize_ticks = [2047.5, 2047.75, 2048, 2048.25, 2048.5]
hugepagesize_labels = ["2047.50", "2047.75", "2048.00", "2048.25", "2048.50"]
direct_map_ticks = [0, 5e6, 1e7, 1.5e7]
direct_map_labels = ["0.0e+00", "5.0e+06", "1.0e+07", "1.5e+07"]

# /proc/meminfo order, laid out column by column (6 rows)
panels = [
    ("MemTotal", mem_total, None, mem_total_ticks, mem_total_labels),
    ("MemFree", mem_free, None, [0, 5e6, 1e7], ["0e+00", "5e+06", "1e+07"]),
    ("Buffers", buffers, None, [0, 2e5, 4e5, 6e5], ["0e+00", "2e+05", "4e+05", "6e+05"]),
    ("Cached", cached, cached_extra, [0, 500000, 1000000, 1500000], None),
    ("SwapCached", swap_cached, swap_cached_extra, [0, 25000, 50000, 75000, 100000], None),
    ("Active", active, active_extra, [0, 500000, 1000000, 1500000, 2000000], None),
    ("Inactive", inactive, None, [5e5, 1e6], ["5e+05", "1e+06"]),
    ("Active.anon.", active_anon, active_anon_extra, [300000, 600000, 900000, 1200000], None),
    ("Inactive.anon.", inactive_anon, inactive_anon_extra, [0, 1e5, 2e5, 3e5, 4e5, 5e5],
     ["0e+00", "1e+05", "2e+05", "3e+05", "4e+05", "5e+05"]),
    ("Active.file.", active_file, active_file_extra, [0, 250000, 500000, 750000], None),
    ("Inactive.file.", inactive_file, inactive_file_extra,
     [0, 250000, 500000, 750000, 1000000, 1250000], None),
    ("Unevictable", unevictable, None, [6500, 7000], None),
    ("Mlocked", mlocked, None, [6500, 7000], None),
    ("SwapTotal", swap_total, None, swap_total_ticks, swap_total_labels),
    ("SwapFree", swap_free, None, [31750000, 32000000, 32250000, 32500000, 32750000], None),
    ("Dirty", dirty, dirty_extra, [0, 2000, 4000, 6000, 8000], None),
    ("Writeback", writeback, writeback_extra, [0, 500, 1000, 1500], None),
    ("AnonPages", anon_pages, anon_pages_extra, [300000, 600000, 900000, 1200000], None),
    ("Mapped", mapped, mapped_extra, [1e5, 2e5, 3e5], ["1e+05", "2e+05", "3e+05"]),
    ("Shmem", shmem, shmem_extra, [0, 20000, 40000, 60000, 80000], None),
    ("Slab", slab, None, [300000, 350000, 400000, 450000, 500000, 550000], None),
    ("SReclaimable", sreclaimable, None, [1e5, 2e5, 3e5], ["1e+05", "2e+05", "3e+05"]),
    ("SUnreclaim", sunreclaim, None, [50000, 100000, 150000, 200000, 250000], None),
    ("KernelStack", kernel_stack, kernel_stack_extra, [5100, 5200, 5300, 5400], None),
    ("PageTables", page_tables, page_tables_extra, [27000, 28000, 29000, 30000], None),
    ("NFS_Unstable", nfs_unstable, None, zero_ticks, zero_labels),
    ("Bounce", bounce, None, zero_ticks, zero_labels),
    ("WritebackTmp", writeback_tmp, None, zero_ticks, zero_labels),
    ("CommitLimit", commit_limit, None, commit_limit_ticks, commit_limit_labels),
    ("Committed_AS", committed_as, committed_as_extra,
     [3300000, 3400000, 3500000, 3600000, 3700000, 3800000, 3900000], None),
    ("VmallocTotal", vmalloc_total, None, vmalloc_total_ticks, vmalloc_total_labels),
    ("VmallocUsed", vmalloc_used, vmalloc_used_extra, [310000, 320000, 330000, 340000], None),
    ("VmallocChunk", vmalloc_chunk, vmalloc_chunk_extra,
     [34350870000, 34350880000, 34350890000, 34350900000, 34350910000], None),
    ("HardwareCorrupted", hardware_corrupted, None, zero_ticks, zero_labels),
    ("AnonHugePages", anon_huge, anon_huge_extra, [1e5, 2e5, 3e5, 4e5, 5e5],
     ["1e+05", "2e+05", "3e+05", "4e+05", "5e+05"]),
    ("HugePages_Total", hugepages_total, None, zero_ticks, zero_labels),
    ("HugePages_Free", hugepages_free, None, zero_ticks, zero_labels),
    ("HugePages_Rsvd", hugepages_rsvd, None, zero_ticks, zero_labels),
    ("HugePages_Surp", hugepages_surp, None, zero_ticks, zero_labels),
    ("Hugepagesize", hugepagesize, None, hugepagesize_ticks, hugepagesize_labels),
    ("DirectMap4k", direct_map_4k, None, direct_map_ticks, direct_map_labels),
    ("DirectMap2M", direct_map_2m, None, direct_map_ticks, direct_map_labels),
]


def draw_panel(ax, name, values, extra, ticks, labels):
    constant = np.isscalar(values)
    if constant:
        y = np.full(len(seconds), float(values))
    else:
        y = np.asarray(values, dtype=float)
    df = pd.DataFrame({"seconds": seconds, name: y})
    if extra is not None:
        df = pd.concat([df, pd.DataFrame(extra, columns=["seconds", name])], ignore_index=True)

    sns.scatterplot(data=df, x="seconds", y=name, ax=ax, color="black", s=14,
                    linewidth=0, edgecolor="none", legend=False)

    if constant:
        lo, hi = values - 0.5, values + 0.5
    else:
        lo, hi = ax.get_ylim()
    if labels is None:
        labels = [f"{int(t)}" for t in ticks]
    ax.set_yticks(ticks, labels)
    ax.set_ylim(lo, hi)
    xlo, xhi = ax.get_xlim()
    ax.set_xticks(x_ticks, x_labels)
    ax.set_xlim(xlo, xhi)

    ax.xaxis.set_minor_locator(AutoMinorLocator(2))
    ax.yaxis.set_minor_locator(AutoMinorLocator(2))
    ax.grid(True, which="major", color="white", linewidth=0.9)
    ax.grid(True, which="minor", color="#F2F2F2", linewidth=0.45)
    ax.set_axisbelow(True)
    for s in ax.spines.values():
        s.set_visible(False)
    ax.tick_params(which="major", bottom=True, left=True, length=2.6, width=0.7,
                   color="#7F7F7F", labelcolor="#7F7F7F", labelsize=6.6, pad=1.2)
    ax.tick_params(which="minor", length=0)

    ax.set_title(name, fontsize=10, pad=3.5)
    ax.set_xlabel("seconds", fontsize=8.7, labelpad=1.5)
    ax.set_ylabel(name, fontsize=8.7, labelpad=2)


sns.set_style("darkgrid", {"axes.facecolor": "#E5E5E5", "grid.color": "white"})
plt.rcParams["font.family"] = ["Liberation Sans", "DejaVu Sans"]

W, H = 1200.0, 1081.0
fig = plt.figure(figsize=(W / 100, H / 100), dpi=100)
fig.patch.set_facecolor("white")
cw, ch = W / 7, H / 6

cells = []
for k, p in enumerate(panels):
    col, row = divmod(k, 6)
    x0 = col * cw
    top = row * ch + 40
    right = x0 + cw - 18
    left = x0 + 80
    ax = fig.add_axes([left / W, 1 - (top + 100) / H, (right - left) / W, 100 / H])
    draw_panel(ax, *p)
    cells.append((ax, x0, right))

# push each panel so its y label starts ~14px into its cell
fig.canvas.draw()
renderer = fig.canvas.get_renderer()
for ax, x0, right in cells:
    bb = ax.yaxis.get_tightbbox(renderer)
    pos = ax.get_position()
    left = pos.x0 * W - (bb.x0 - (x0 + 14))
    ax.set_position([left / W, pos.y0, (right - left) / W, pos.height])

fig.savefig("out.png", dpi=100)
